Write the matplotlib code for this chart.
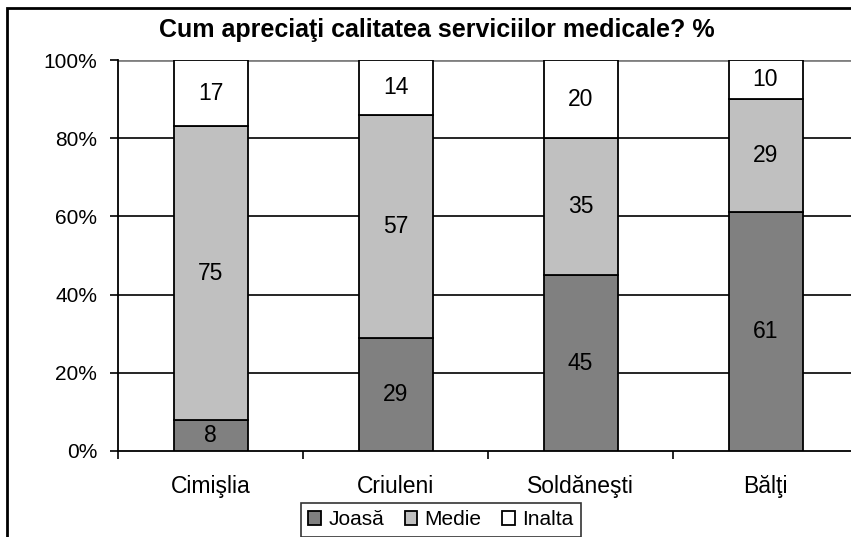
import numpy as np
import matplotlib.pyplot as plt
from matplotlib.patches import Rectangle

plt.rcParams['font.family'] = ['Liberation Sans', 'DejaVu Sans']

# data
regions = ['Cimişlia', 'Criuleni', 'Soldăneşti', 'Bălţi']
joasa = [8, 29, 45, 61]
medie = [75, 57, 35, 29]
inalta = [17, 14, 20, 10]
series_names = ['Joasă', 'Medie', 'Inalta']
colors = ['#808080', '#c0c0c0', '#ffffff']
yticks = [0, 20, 40, 60, 80, 100]

fig = plt.figure(figsize=(8.51, 5.37), dpi=100)
ax = fig.add_axes([118 / 851, 1 - 451 / 537, 740 / 851, 391 / 537])

x = np.arange(len(regions))
bottom = np.zeros(len(regions))
for name, vals, col in zip(series_names, [joasa, medie, inalta], colors):
    ax.bar(x, vals, 0.4, bottom=bottom, color=col, edgecolor='black',
           linewidth=1.3, label=name, zorder=3)
    for xi, b, v in zip(x, bottom, vals):
        kw = {}
        if name == 'Inalta':
            kw['bbox'] = dict(facecolor='white', edgecolor='none', pad=1)
        ax.text(xi, b + v / 2, str(v), ha='center', va='center',
                fontsize=16.5, zorder=4, **kw)
    bottom += np.array(vals)

ax.set_xlim(-0.5, 3.5)
ax.set_ylim(0, 100)

# gridlines
for y in yticks[1:-1]:
    ax.axhline(y, color='black', linewidth=1.2, zorder=1)
ax.axhline(100, color='#808080', linewidth=2, zorder=1)

ax.set_yticks(yticks)
ax.set_yticklabels([f'{v}%' for v in yticks])
ax.tick_params(axis='y', direction='out', length=6, width=1.2, pad=9,
               labelsize=15)

ax.set_xticks(x)
ax.set_xticklabels(regions)
ax.tick_params(axis='x', which='major', length=0, pad=17, labelsize=16.5)
ax.set_xticks(np.arange(-0.5, 4, 1), minor=True)
ax.tick_params(axis='x', which='minor', direction='out', length=6, width=1.2)

for s in ['top', 'right']:
    ax.spines[s].set_visible(False)
ax.spines['left'].set_linewidth(1.3)
ax.spines['bottom'].set_linewidth(1.3)

fig.text(437 / 851, 1 - 30 / 537, 'Cum apreciaţi calitatea serviciilor medicale? %',
         ha='center', va='center', fontsize=18, fontweight='bold')

# outer chart border (cropped on right and bottom)
fig.patches.append(Rectangle((7 / 851, -0.05), 1.1, 1 - 8 / 537 + 0.05,
                             transform=fig.transFigure, fill=False,
                             edgecolor='black', linewidth=2))

leg = fig.legend(loc='upper center', bbox_to_anchor=(441 / 851, 1 - 503 / 537),
                 ncol=3, fontsize=15, frameon=True, fancybox=False,
                 edgecolor='black', handlelength=0.6, handleheight=0.6,
                 handletextpad=0.35, columnspacing=1.0, borderpad=0.35,
                 borderaxespad=0)
leg.get_frame().set_linewidth(1.2)

fig.savefig('out.png', dpi=100)
